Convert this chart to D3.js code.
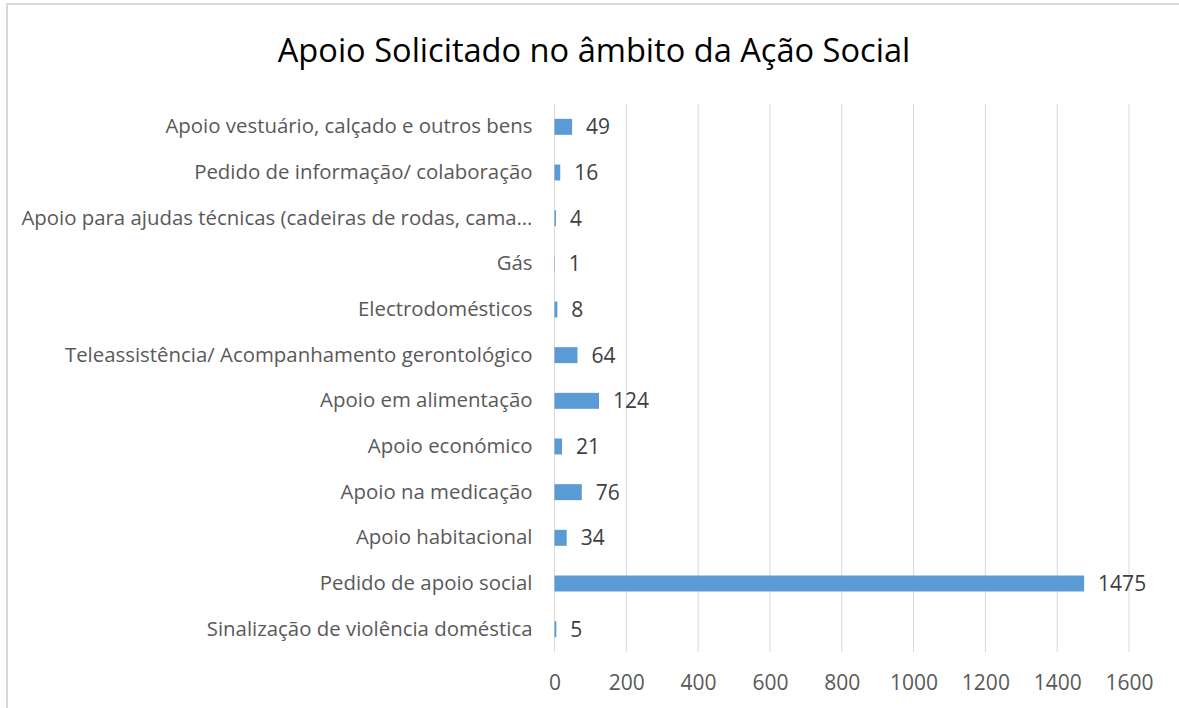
<!DOCTYPE html>
<html>
<head>
<meta charset="utf-8">
<script src="https://cdn.jsdelivr.net/npm/d3@7"></script>
<style>
	body { margin: 0; background: #fff; }
	svg text { font-family: "Open Sans", sans-serif; }
</style>
</head>
<body>
<svg id="chart" width="1179" height="708"></svg>
<script>
var categories = [
	'Apoio vestuário, calçado e outros bens',
	'Pedido de informação/ colaboração',
	'Apoio para ajudas técnicas (cadeiras de rodas, cama…',
	'Gás',
	'Electrodomésticos',
	'Teleassistência/ Acompanhamento gerontológico',
	'Apoio em alimentação',
	'Apoio económico',
	'Apoio na medicação',
	'Apoio habitacional',
	'Pedido de apoio social',
	'Sinalização de violência doméstica'
];
var values = [49, 16, 4, 1, 8, 64, 124, 21, 76, 34, 1475, 5];
var xTicks = [0, 200, 400, 600, 800, 1000, 1200, 1400, 1600];
var title = 'Apoio Solicitado no âmbito da Ação Social';

var svg = d3.select('#chart');

// chart area border (bottom edge is outside the view)
svg.append('rect')
	.attr('x', 7).attr('y', 4)
	.attr('width', 1200).attr('height', 720)
	.attr('fill', 'none')
	.attr('stroke', '#d9d9d9')
	.attr('stroke-width', 2);

var plot = { left: 554.5, right: 1129, top: 104, bottom: 652 };

var x = d3.scaleLinear().domain([0, 1600]).range([plot.left, plot.right]);
var y = d3.scaleBand().domain(categories).range([plot.top, plot.bottom]).paddingInner(0.65).paddingOuter(0.325);

svg.append('text')
	.attr('x', 594).attr('y', 62)
	.attr('text-anchor', 'middle')
	.attr('font-size', 32.6)
	.attr('fill', '#000')
	.text(title);

// gridlines
svg.append('g').selectAll('line')
	.data(xTicks)
	.enter().append('line')
	.attr('x1', function (d) { return x(d); })
	.attr('x2', function (d) { return x(d); })
	.attr('y1', plot.top)
	.attr('y2', plot.bottom)
	.attr('stroke', '#d9d9d9')
	.attr('stroke-width', 1);

// x axis labels
var xAxis = d3.axisBottom(x).tickValues(xTicks).tickFormat(d3.format('d')).tickSize(0).tickPadding(0);
var gx = svg.append('g')
	.attr('transform', 'translate(0,' + (plot.bottom + 23) + ')')
	.call(xAxis);
gx.select('.domain').remove();
gx.selectAll('text')
	.attr('font-size', 21)
	.attr('fill', '#595959')
	.attr('font-family', '"Open Sans", sans-serif');

// y axis labels
var yAxis = d3.axisLeft(y).tickSize(0).tickPadding(22);
var gy = svg.append('g')
	.attr('transform', 'translate(' + plot.left + ',0)')
	.call(yAxis);
gy.select('.domain').remove();
gy.selectAll('text')
	.attr('font-size', 20.4)
	.attr('fill', '#595959')
	.attr('font-family', '"Open Sans", sans-serif');

// bars
svg.append('g').selectAll('rect')
	.data(values)
	.enter().append('rect')
	.attr('x', x(0))
	.attr('y', function (d, i) { return y(categories[i]); })
	.attr('width', function (d) { return x(d) - x(0); })
	.attr('height', y.bandwidth())
	.attr('fill', '#5b9bd5');

// value labels
svg.append('g').selectAll('text')
	.data(values)
	.enter().append('text')
	.attr('x', function (d) { return x(d) + 14; })
	.attr('y', function (d, i) { return y(categories[i]) + y.bandwidth() / 2; })
	.attr('dy', '0.36em')
	.attr('font-size', 21)
	.attr('fill', '#404040')
	.text(function (d) { return d; });
</script>
</body>
</html>
